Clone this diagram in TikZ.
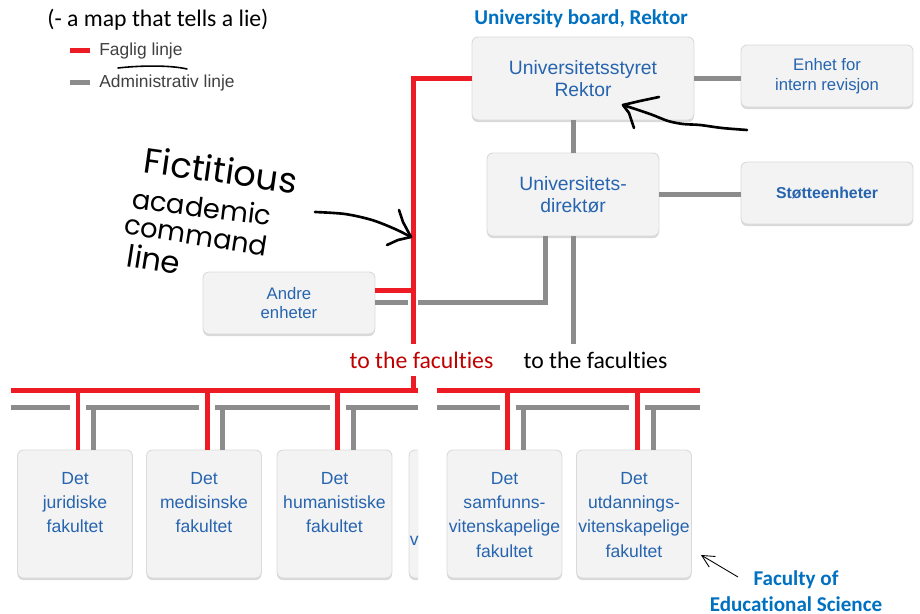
\documentclass[tikz,border=0pt]{standalone}
\usepackage{fontspec}
\setmainfont{Carlito}[Ligatures={NoCommon}]
\newfontfamily\arialfont{Liberation Sans}
\newfontfamily\handfont{Poppins}[Ligatures={NoCommon}]
\usetikzlibrary{positioning,shadows,arrows.meta}
\definecolor{lineRed}{RGB}{237,28,36}
\definecolor{lineGray}{RGB}{140,140,140}
\definecolor{textRed}{RGB}{192,0,0}
\definecolor{boxBlue}{RGB}{38,100,175}
\definecolor{headBlue}{RGB}{0,112,192}
\definecolor{boxFill}{RGB}{243,243,243}
\definecolor{boxEdge}{RGB}{218,218,218}
\tikzset{
  redline/.style={draw=lineRed, line width=0.1cm},
  grayline/.style={draw=lineGray, line width=0.1cm},
  orgbox/.style={draw=boxEdge, fill=boxFill, rounded corners=0.12cm, line width=0.5pt,
    align=center, text=boxBlue, inner sep=0pt,
    drop shadow={shadow xshift=0pt, shadow yshift=-1.2pt, opacity=0.3}},
  topbox/.style={orgbox, minimum height=1.66cm, font=\arialfont\fontsize{11}{12.5}\selectfont},
  sidebox/.style={orgbox, minimum width=3.44cm, minimum height=1.24cm, font=\arialfont\fontsize{9.5}{11.3}\selectfont},
  facbox/.style={orgbox, minimum width=2.3cm, minimum height=2.56cm},
  factext/.style={font=\arialfont\fontsize{10}{13.9}\selectfont, text=boxBlue, align=center, inner sep=0pt},
  legtext/.style={font=\arialfont\fontsize{9.9}{11}\selectfont, text=black!75, anchor=west, inner sep=0pt},
  note/.style={font=\fontsize{13.5}{16}\selectfont, inner sep=4pt},
  headnote/.style={font=\bfseries\fontsize{12}{14.5}\selectfont, text=headBlue, align=center, inner sep=0pt},
  hand/.style={font=\handfont\fontsize{#1}{#1}\selectfont, inner sep=0pt},
  handline/.style={line width=1.5pt, line cap=round, line join=round},
}

\begin{document}
\begin{tikzpicture}[x=0.02cm, y=-0.02cm]
	\useasboundingbox (0,0) rectangle (920,614);
	% titles
	\node[note, anchor=west, inner sep=0pt] (lie) at (47,20) {(- a map that tells a lie)};
	\node[headnote, anchor=west] (board) at (474,19) {University board, Rektor};
	% legend
	\node[legtext] (lfag) at (99,51) {Faglig linje};
	\node[legtext] (ladm) at (99,83) {Administrativ linje};
	\draw[redline] ([xshift=-0.18cm]lfag.west) -- ([xshift=-0.58cm]lfag.west);
	\draw[grayline] ([xshift=-0.18cm]ladm.west) -- ([xshift=-0.58cm]ladm.west);
	\draw[handline, line width=0.9pt] (118,68) .. controls (140,65.5) and (170,65) .. (187,69);
	% top of the tree
	\node[topbox, minimum width=4.44cm] (styret) at (583,78.5) {Universitetsstyret\\Rektor};
	\node[sidebox] (revisjon) at (827,76) {Enhet for\\intern revisjon};
	\node[topbox, minimum width=3.44cm] (direktor) at (573,194.5) {Universitets-\\direktør};
	\node[sidebox, font=\arialfont\bfseries\fontsize{9}{11}\selectfont] (stotte) at (827,193) {Støtteenheter};
	\node[sidebox] (andre) at (289,303) {Andre\\enheter};
	\node[note, text=textRed] (tored) at (421.5,360) {to the faculties};
	\node[note] (toblk) at (595.5,360) {to the faculties};
	\coordinate (spine) at (413,391);
	\coordinate (cross) at (andre.east -| spine);
	\coordinate (ared) at ([yshift=0.24cm]andre.east);
	\coordinate (dk) at ([xshift=-0.56cm]direktor.south);
	% administrative lines
	\draw[grayline] (styret.east) -- (styret.east -| revisjon.west);
	\draw[grayline] (direktor.north) -- (direktor.north |- styret.south);
	\draw[grayline] (direktor.east) -- (direktor.east -| stotte.west);
	\draw[grayline] (direktor.south) -- (direktor.south |- toblk.north);
	\draw[grayline] (andre.east) -- ([xshift=-0.1cm]cross);
	\draw[grayline] (dk) |- ([xshift=0.1cm]cross);
	% academic line
	\draw[redline] (styret.west) -| (tored.north -| spine);
	\draw[redline] (tored.south -| spine) -- (spine);
	\draw[redline] (ared) -- (ared -| spine);
	% faculties
	\node[facbox] (jur) at (75,514) {};
	\node[facbox] (med) at (204,514) {};
	\node[facbox] (hum) at (334.5,514) {};
	\node[facbox] (sam) at (504.5,514) {};
	\node[facbox] (utd) at (634,514) {};
	\begin{scope}
		\clip (400,440) rectangle (418,600);
		\node[facbox] (mat) at (466.5,514) {};
		\node[factext, anchor=west] at (409.5,541) {v};
	\end{scope}
	\node[factext, below=0.44cm of jur.north] {Det\\juridiske\\fakultet};
	\node[factext, below=0.44cm of med.north] {Det\\medisinske\\fakultet};
	\node[factext, below=0.44cm of hum.north] {Det\\humanistiske\\fakultet};
	\node[factext, below=0.44cm of sam.north] {Det\\samfunns-\\vitenskapelige\\fakultet};
	\node[factext, below=0.44cm of utd.north] {Det\\utdannings-\\vitenskapelige\\fakultet};
	\coordinate (rbus) at (11,391);
	\coordinate (gbus) at (11,408);
	\draw[redline] (rbus) -- (418,391);
	\draw[redline] (437,391) -- (700,391);
	\foreach \a/\b in {11/70, 86/199, 215/329.5, 345.5/418, 437/499.5, 515.5/629, 645/700}
		\draw[grayline] (\a,408) -- (\b,408);
	\foreach \f in {jur,med,hum,sam,utd}{
		\coordinate (r\f) at ([xshift=0.06cm]\f.north);
		\coordinate (g\f) at ([xshift=0.38cm]\f.north);
		\draw[redline] (r\f) -- (r\f |- rbus);
		\draw[grayline] (g\f) -- (g\f |- gbus);
	}
	% scribbles
	\node[hand=20, rotate=-8] (fic1) at (221,170) {Fictitious};
	\node[hand=15.5, rotate=-7] (fic2) at (202,207) {academic};
	\node[hand=15.5, rotate=-9] (fic3) at (196,235) {command};
	\node[hand=17.5, rotate=-9] (fic4) at (154,259) {line};
	\coordinate (fictip) at (411,237);
	\draw[handline] plot[smooth] coordinates {(315,212) (345,214) (372,220) (395,229) (fictip)};
	\draw[handline] (399,210) -- (403,222) -- (fictip) -- (398,240) -- (387,245);
	\coordinate (rektip) at (623,105);
	\draw[handline] plot[smooth] coordinates {(747,130) (722,128) (700,125) (683,124) (668,121) (650,114) (rektip)};
	\draw[handline] (659,97) -- (640,101) -- (rektip) -- (629,113) -- (634,128);
	% faculty of educational science
	\node[headnote] (fes) at (796,591) {Faculty of\\Educational Science};
	\coordinate (fesarr) at (738,577);
	\draw[-{Straight Barb[length=7pt,width=7pt]}, line width=0.5pt] (fesarr) -- ([xshift=0.18cm,yshift=-0.82cm]utd.east);
\end{tikzpicture}
\end{document}
